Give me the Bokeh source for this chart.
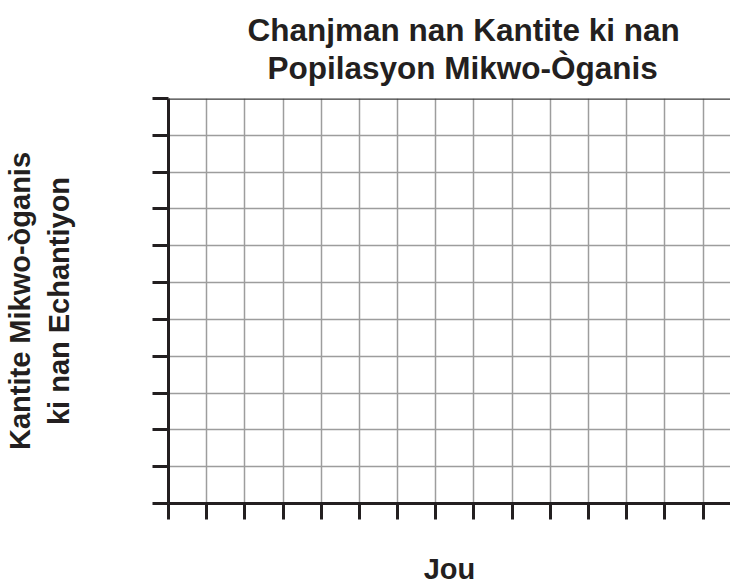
from bokeh.plotting import figure
from bokeh.models import Range1d, FixedTicker, Title, Span
from bokeh.embed import file_html
from bokeh.resources import INLINE

# Data (empty grid chart): tick positions
day_ticks = list(range(0, 15))        # x: Jou (days), 15 grid lines
count_ticks = list(range(0, 12))      # y: Kantite, 12 grid lines
x_end = 14.72
y_end = 11

title_line1 = "Chanjman nan Kantite ki nan"
title_line2 = "Popilasyon Mikwo-Òganis"
y_label = "Kantite Mikwo-òganis\nki nan Echantiyon"
x_label = "Jou"

FONT = "Liberation Sans"
INK = "#231f20"

p = figure(width=730, height=588, title=None,
           x_range=Range1d(0, x_end), y_range=Range1d(0, y_end),
           output_backend="svg", toolbar_location=None,
           min_border_left=168, min_border_right=0,
           min_border_top=98, min_border_bottom=85)

p.background_fill_color = "white"
p.border_fill_color = "white"
p.outline_line_color = None

t2 = Title(text=title_line2, align="left", offset=99, text_font=FONT,
           text_font_size="31.5px", text_font_style="bold", text_color=INK, standoff=25)
t1 = Title(text=title_line1, align="left", offset=79, text_font=FONT,
           text_font_size="31.5px", text_font_style="bold", text_color=INK, standoff=-25)
p.add_layout(t2, "above")
p.add_layout(t1, "above")

for ax, ticks in ((p.xaxis, day_ticks), (p.yaxis, count_ticks)):
    ax.ticker = FixedTicker(ticks=ticks)
    ax.major_label_overrides = {t: "" for t in ticks}
    ax.axis_line_color = INK
    ax.axis_line_width = 3
    ax.major_tick_line_color = INK
    ax.major_tick_line_width = 3
    ax.major_tick_out = 16
    ax.major_tick_in = 0
    ax.minor_tick_line_color = None
    ax.major_label_text_font_size = "1px"
    ax.major_label_standoff = 0
    ax.axis_label_text_font = FONT
    ax.axis_label_text_font_style = "bold"
    ax.axis_label_text_font_size = "29px"
    ax.axis_label_text_color = INK

p.xaxis.axis_label = x_label
p.yaxis.axis_label = y_label
p.xaxis.axis_label_standoff = 33
p.yaxis.axis_label_standoff = 78

p.xgrid.ticker = FixedTicker(ticks=day_ticks)
p.ygrid.ticker = FixedTicker(ticks=count_ticks)
for g in (p.xgrid, p.ygrid):
    g.grid_line_color = "#9d9d9d"
    g.grid_line_width = 1.5

top_line = Span(location=y_end, dimension="width", line_color="#3a3a3a", line_width=2.5)
p.add_layout(top_line)

open("out.html", "w").write(file_html(p, INLINE))
